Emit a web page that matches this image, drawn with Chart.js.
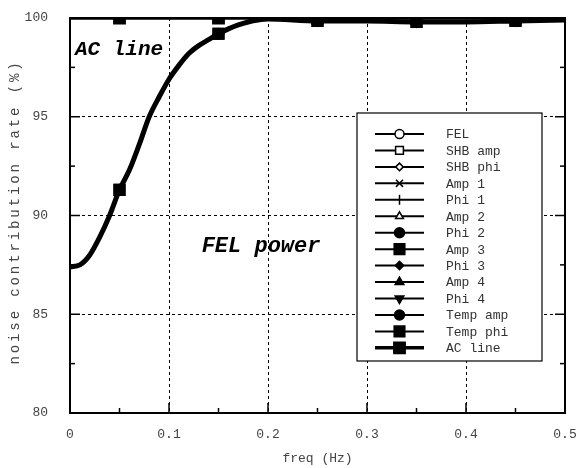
<!DOCTYPE html>
<html>
<head>
<meta charset="utf-8">
<script src="https://cdn.jsdelivr.net/npm/chart.js@4.4.0/dist/chart.umd.min.js"></script>
<style>
html, body { margin: 0; padding: 0; background: #fff; }
#wrap { width: 576px; height: 468px; }
</style>
</head>
<body>
<div id="wrap"><canvas id="chart"></canvas></div>
<script>
// ===== DATA =====
var freqs = [0, 0.01, 0.02, 0.03, 0.04, 0.05, 0.06, 0.07, 0.08, 0.09, 0.1,
    0.11, 0.12, 0.13, 0.14, 0.15, 0.16, 0.17, 0.18, 0.19, 0.2,
    0.25, 0.3, 0.35, 0.4, 0.45, 0.5];
// cumulative rate of all sources except AC line
var belowAcLine = [87.4, 87.5, 88.0, 88.9, 90.0, 91.3, 92.3, 93.6, 95.0, 96.0, 96.9,
    97.6, 98.2, 98.6, 98.9, 99.2, 99.45, 99.65, 99.8, 99.9, 99.95,
    99.85, 99.85, 99.8, 99.8, 99.85, 99.9];
// cumulative rate including AC line
var withAcLine = [100, 100, 100, 100, 100, 100, 100, 100, 100, 100, 100,
    100, 100, 100, 100, 100, 100, 100, 100, 100, 100,
    100, 100, 100, 100, 100, 100];
var markerFreqs = [0.05, 0.15, 0.25, 0.35, 0.45];
var seriesNames = ['FEL', 'SHB amp', 'SHB phi', 'Amp 1', 'Phi 1', 'Amp 2', 'Phi 2',
    'Amp 3', 'Phi 3', 'Amp 4', 'Phi 4', 'Temp amp', 'Temp phi', 'AC line'];
var xTickValues = [0, 0.1, 0.2, 0.3, 0.4, 0.5];
var xMinorTicks = [0.05, 0.15, 0.25, 0.35, 0.45];
var yTickValues = [80, 85, 90, 95, 100];
var yMinorTicks = [82.5, 87.5, 92.5, 97.5];

// ===== STYLES =====
// [pointStyle, radius, filled, rotation]
var markerStyles = [
    ['circle', 4.5, false, 0],
    ['rect', 5.5, false, 0],
    ['rectRot', 3.8, false, 0],
    ['crossRot', 5, false, 0],
    ['line', 5, false, 90],
    ['triangle', 4.5, false, 0],
    ['circle', 5, true, 0],
    ['rect', 7.5, true, 0],
    ['rectRot', 4.2, true, 0],
    ['triangle', 5, true, 0],
    ['triangle', 5, true, 180],
    ['circle', 5, true, 0],
    ['rect', 7.5, true, 0],
    ['rect', 8, true, 0]
];
var monoFont = "'Liberation Mono', 'DejaVu Sans Mono', monospace";

function isMarker(x) {
    for (var i = 0; i < markerFreqs.length; i++) {
        if (Math.abs(markerFreqs[i] - x) < 1e-6) return true;
    }
    return false;
}

function noScalePadding(s) {
    s.paddingTop = 0;
    s.paddingBottom = 0;
    s.paddingLeft = 0;
    s.paddingRight = 0;
}

function buildDatasets() {
    var sets = [];
    seriesNames.forEach(function (name, i) {
        var values = i === 13 ? withAcLine : belowAcLine;
        var st = markerStyles[i];
        sets.push({
            label: name,
            data: freqs.map(function (f, j) { return { x: f, y: values[j] }; }),
            borderColor: '#000',
            borderWidth: i === 13 ? 3.5 : (i === 12 ? 5 : 2),
            pointStyle: st[0],
            rotation: st[3],
            pointRadius: function (ctx) { return ctx.raw && isMarker(ctx.raw.x) ? st[1] : 0; },
            pointBackgroundColor: st[2] ? '#000' : '#fff',
            pointBorderColor: '#000',
            pointBorderWidth: 1.5,
            cubicInterpolationMode: 'monotone',
            order: i === 13 ? 0 : (i === 12 ? 1 : 20 - i)
        });
    });
    return sets;
}

// ===== PLUGINS =====
var frameAndTicks = {
    id: 'frameAndTicks',
    afterDatasetsDraw: function (chart) {
        var ctx = chart.ctx, a = chart.chartArea;
        var xs = chart.scales.x, ys = chart.scales.y;
        ctx.save();
        ctx.strokeStyle = '#000';
        ctx.lineWidth = 1.5;
        xTickValues.forEach(function (v) {
            var px = xs.getPixelForValue(v);
            ctx.beginPath(); ctx.moveTo(px, a.bottom); ctx.lineTo(px, a.bottom - 10); ctx.stroke();
        });
        xMinorTicks.forEach(function (v) {
            var px = xs.getPixelForValue(v);
            ctx.beginPath(); ctx.moveTo(px, a.bottom); ctx.lineTo(px, a.bottom - 5); ctx.stroke();
        });
        yTickValues.forEach(function (v) {
            var py = ys.getPixelForValue(v);
            ctx.beginPath(); ctx.moveTo(a.left, py); ctx.lineTo(a.left + 10, py); ctx.stroke();
            ctx.beginPath(); ctx.moveTo(a.right, py); ctx.lineTo(a.right - 10, py); ctx.stroke();
        });
        yMinorTicks.forEach(function (v) {
            var py = ys.getPixelForValue(v);
            ctx.beginPath(); ctx.moveTo(a.left, py); ctx.lineTo(a.left + 5, py); ctx.stroke();
            ctx.beginPath(); ctx.moveTo(a.right, py); ctx.lineTo(a.right - 5, py); ctx.stroke();
        });
        ctx.lineWidth = 2;
        ctx.strokeRect(a.left, a.top, a.right - a.left, a.bottom - a.top);

        // annotations
        ctx.fillStyle = '#000';
        ctx.textBaseline = 'middle';
        ctx.font = 'italic bold 21px ' + monoFont;
        ctx.textAlign = 'left';
        ctx.fillText('AC line', xs.getPixelForValue(0.005), ys.getPixelForValue(98.4));
        ctx.font = 'italic bold 22px ' + monoFont;
        ctx.textAlign = 'center';
        ctx.fillText('FEL power', xs.getPixelForValue(0.193), ys.getPixelForValue(88.45));

        // y axis title, drawn here to get the wide letter spacing
        ctx.save();
        ctx.translate(15, 212);
        ctx.rotate(-Math.PI / 2);
        ctx.fillStyle = '#444';
        ctx.font = '14px ' + monoFont;
        ctx.letterSpacing = '2.9px';
        ctx.fillText('noise contribution rate (%)', 0, 0);
        ctx.restore();
        ctx.restore();
    }
};

var boxLegend = {
    id: 'boxLegend',
    afterDraw: function (chart) {
        var ctx = chart.ctx;
        var left = 357, top = 113, right = 542, bottom = 361;
        ctx.save();
        ctx.fillStyle = '#fff';
        ctx.fillRect(left, top, right - left, bottom - top);
        ctx.strokeStyle = '#000';
        ctx.lineWidth = 1.2;
        ctx.strokeRect(left, top, right - left, bottom - top);
        ctx.font = '13px ' + monoFont;
        ctx.textBaseline = 'middle';
        ctx.textAlign = 'left';
        seriesNames.forEach(function (name, i) {
            var y = 134 + i * 16.45;
            var st = markerStyles[i];
            ctx.strokeStyle = '#000';
            ctx.lineWidth = i === 13 ? 3.5 : 2;
            ctx.beginPath(); ctx.moveTo(375, y); ctx.lineTo(424, y); ctx.stroke();
            ctx.lineWidth = 1.5;
            ctx.fillStyle = st[2] ? '#000' : '#fff';
            Chart.helpers.drawPoint(ctx, { pointStyle: st[0], radius: st[1], rotation: st[3], borderWidth: 1.5 }, 399.5, y);
            ctx.fillStyle = '#333';
            ctx.fillText(name, 446, y + 1);
        });
        ctx.restore();
    }
};

// ===== CHART =====
new Chart(document.getElementById('chart'), {
    type: 'line',
    data: { datasets: buildDatasets() },
    options: {
        responsive: true,
        maintainAspectRatio: false,
        animation: false,
        layout: { padding: { top: 18, right: 11, left: 0, bottom: 0 } },
        plugins: { legend: { display: false }, tooltip: { enabled: false } },
        scales: {
            x: {
                type: 'linear', min: 0, max: 0.5,
                afterBuildTicks: function (s) { s.ticks = xTickValues.map(function (v) { return { value: v }; }); },
                afterFit: function (s) { s.height = 55; noScalePadding(s); },
                ticks: {
                    color: '#444', padding: 14, maxRotation: 0,
                    font: { family: monoFont, size: 13 },
                    callback: function (v) { return String(+v.toFixed(1)); }
                },
                grid: { color: '#000', lineWidth: 1, drawTicks: false },
                border: { display: false, dash: [3, 3] },
                title: { display: true, text: 'freq (Hz)', color: '#444', font: { family: monoFont, size: 13 }, padding: { top: 0, bottom: 2 } }
            },
            y: {
                min: 80, max: 100,
                afterBuildTicks: function (s) { s.ticks = yTickValues.map(function (v) { return { value: v }; }); },
                afterFit: function (s) { s.width = 70; noScalePadding(s); },
                ticks: { color: '#444', padding: 22, font: { family: monoFont, size: 13 } },
                grid: { color: '#000', lineWidth: 1, drawTicks: false },
                border: { display: false, dash: [3, 3] }
            }
        }
    },
    plugins: [frameAndTicks, boxLegend]
});
</script>
</body>
</html>
